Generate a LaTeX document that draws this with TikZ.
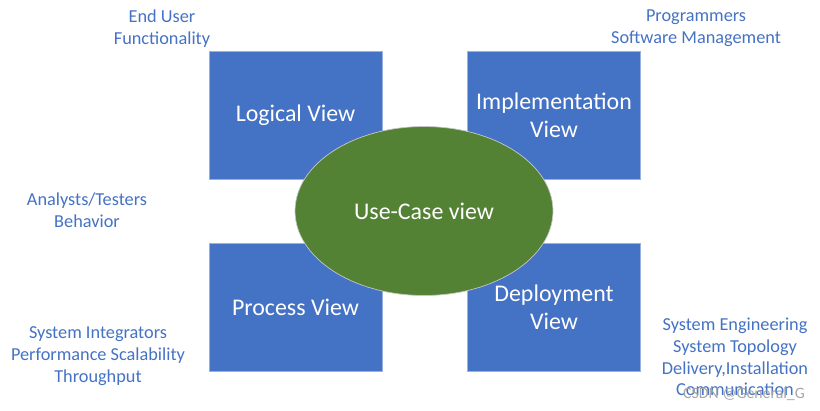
\documentclass[tikz,border=0pt]{standalone}
\usepackage{fontspec}
\setmainfont{Carlito}
\usetikzlibrary{shapes.geometric}
\definecolor{viewblue}{HTML}{4472C4}
\definecolor{casegreen}{HTML}{548235}
\tikzset{
  view/.style={draw=viewblue!55!white, fill=viewblue, text=white, align=center,
    minimum width=3.46cm, minimum height=2.56cm, inner sep=0pt,
    font=\fontsize{13.6}{15.9}\selectfont},
  usecase/.style={ellipse, draw=gray!45, fill=casegreen, text=white,
    minimum width=5.16cm, minimum height=3.38cm, inner sep=0pt,
    font=\fontsize{13.6}{15.9}\selectfont},
  role/.style={text=viewblue, align=center, inner sep=0pt,
    font=\fontsize{10.4}{12.4}\selectfont}
}
\begin{document}
\begin{tikzpicture}[x=0.02cm,y=-0.02cm]
  \useasboundingbox (0,0) rectangle (820,410);
  % the four views
  \node[view] (logical) at (295.5,115) {Logical View};
  \node[view] (impl) at (554,115) {Implementation\\View};
  \node[view] (process) at (295.5,307) {Process View};
  \node[view] (deploy) at (554,307) {Deployment\\View};
  % use-case view on top
  \node[usecase] (usecase) at (424,211) {Use-Case view};
  % stakeholders and concerns
  \node[role] (enduser) at (162,28.5) {End User\\Functionality};
  \node[role] (programmers) at (696,28.5) {Programmers\\Software Management};
  \node[role] (analysts) at (87,210.5) {Analysts/Testers\\Behavior};
  \node[role] (integrators) at (98,356) {System Integrators\\Performance Scalability\\Throughput};
  \node[role] (engineering) at (735,357) {System Engineering\\System Topology\\Delivery,Installation\\Communication};
  \node[text=gray!70, inner sep=0pt, font=\fontsize{9}{11}\selectfont] (mark) at (744,394) {CSDN @General\_G};
\end{tikzpicture}
\end{document}
